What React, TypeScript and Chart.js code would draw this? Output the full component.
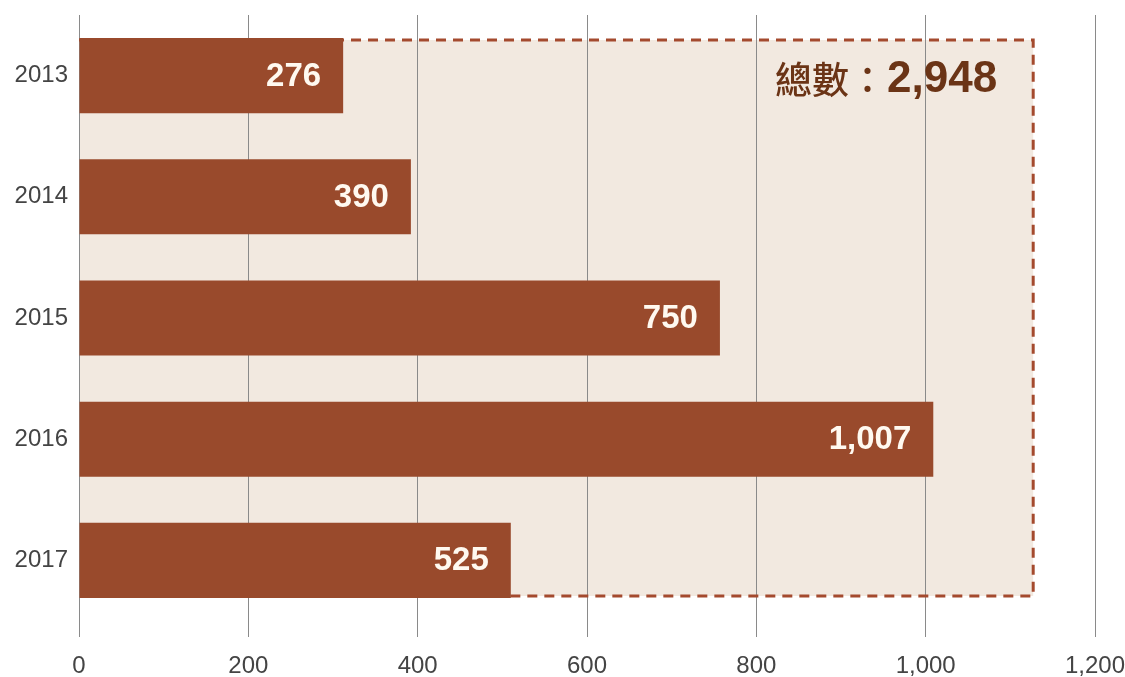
import React, { useEffect, useRef } from "react";
import { Chart, registerables } from "chart.js";

Chart.register(...registerables);

const years = ["2013", "2014", "2015", "2016", "2017"];
// reported values (printed on bars)
const reportedValues = [276, 390, 750, 1007, 525];
// bar lengths as drawn in the reference graphic
const barLengths = [312, 392, 757, 1009, 510];
const xTicks = [0, 200, 400, 600, 800, 1000, 1200];
const totalLabel = "總數：";
const boxMaxValue = 1127;

const fmt = (v: number) => v.toLocaleString("en-US");

export default function App() {
  const ref = useRef<HTMLCanvasElement | null>(null);

  useEffect(() => {
    document.body.style.margin = "0";
    const canvas = ref.current;
    if (!canvas) return;

    const boxGeom = (chart: any) => {
      const meta = chart.getDatasetMeta(0);
      const xs = chart.scales.x;
      const first = meta.data[0];
      const last = meta.data[meta.data.length - 1];
      const left = xs.getPixelForValue(0);
      const right = xs.getPixelForValue(boxMaxValue);
      const top = first.y - first.height / 2 + 2;
      const bottom = last.y + last.height / 2 - 2;
      return { left, right, top, bottom };
    };

    const boxPlugin = {
      id: "boxPlugin",
      beforeDraw(chart: any) {
        const { left, right, top, bottom } = boxGeom(chart);
        const ctx = chart.ctx;
        ctx.save();
        ctx.fillStyle = "#f2e9e0";
        ctx.fillRect(left, top, right - left, bottom - top);
        ctx.restore();
      },
      beforeDatasetsDraw(chart: any) {
        const { left, right, top, bottom } = boxGeom(chart);
        const ctx = chart.ctx;
        ctx.save();
        ctx.strokeStyle = "#a44a2e";
        ctx.lineWidth = 3;
        ctx.setLineDash([10, 7]);
        ctx.beginPath();
        ctx.moveTo(left, top);
        ctx.lineTo(right, top);
        ctx.lineTo(right, bottom);
        ctx.lineTo(left, bottom);
        ctx.stroke();
        ctx.restore();
      },
      afterDatasetsDraw(chart: any) {
        const meta = chart.getDatasetMeta(0);
        const xs = chart.scales.x;
        const ctx = chart.ctx;
        ctx.save();
        ctx.fillStyle = "#fff9f0";
        ctx.font = "bold 33px 'Liberation Sans', Arial, sans-serif";
        ctx.textAlign = "right";
        ctx.textBaseline = "middle";
        meta.data.forEach((bar: any, i: number) => {
          ctx.fillText(fmt(reportedValues[i]), bar.x - 22, bar.y + 1);
        });
        // total
        const total = reportedValues.reduce((a, b) => a + b, 0);
        const right = xs.getPixelForValue(boxMaxValue) - 36;
        const y = meta.data[0].y + 4;
        ctx.fillStyle = "#6b3416";
        ctx.font = "bold 44px 'Liberation Sans', Arial, sans-serif";
        const numText = fmt(total);
        const w = ctx.measureText(numText).width;
        ctx.fillText(numText, right, y);
        ctx.font = "500 37px 'Noto Sans CJK TC', sans-serif";
        ctx.fillText(totalLabel, right - w - 1, y);
        ctx.restore();
      },
    };

    const chart = new Chart(canvas, {
      type: "bar",
      data: {
        labels: years,
        datasets: [
          {
            data: barLengths,
            backgroundColor: "#994a2c",
            borderWidth: 0,
            categoryPercentage: 1,
            barPercentage: 0.62,
          },
        ],
      },
      options: {
        indexAxis: "y",
        responsive: false,
        animation: false,
        layout: { padding: { top: 15, right: 30, left: 0, bottom: 0 } },
        plugins: {
          legend: { display: false },
          tooltip: { enabled: false },
        },
        scales: {
          x: {
            min: 0,
            max: 1200,
            afterBuildTicks: (scale: any) => {
              scale.ticks = xTicks.map((v) => ({ value: v }));
            },
            afterFit: (scale: any) => {
              scale.height = 56;
              scale.paddingLeft = 0;
              scale.paddingRight = 0;
            },
            grid: {
              color: "#8a8a8a",
              lineWidth: 1,
              tickLength: 16,
              drawTicks: true,
            },
            border: { display: false },
            ticks: {
              padding: 15,
              color: "#444",
              font: { family: "'Liberation Sans', Arial, sans-serif", size: 24 },
              callback: (v: any) => fmt(Number(v)),
              maxRotation: 0,
            },
          },
          y: {
            afterFit: (scale: any) => {
              scale.width = 79;
              scale.paddingTop = 0;
              scale.paddingBottom = 0;
            },
            grid: { display: false, drawTicks: false },
            border: { display: false },
            ticks: {
              padding: 11,
              color: "#444",
              font: { family: "'Liberation Sans', Arial, sans-serif", size: 24 },
            },
          },
        },
      },
      plugins: [boxPlugin],
    } as any);

    return () => chart.destroy();
  }, []);

  return (
    <div style={{ width: 1125, height: 677, background: "#ffffff" }}>
      <canvas ref={ref} width={1125} height={677} style={{ width: 1125, height: 677, display: "block" }} />
    </div>
  );
}
